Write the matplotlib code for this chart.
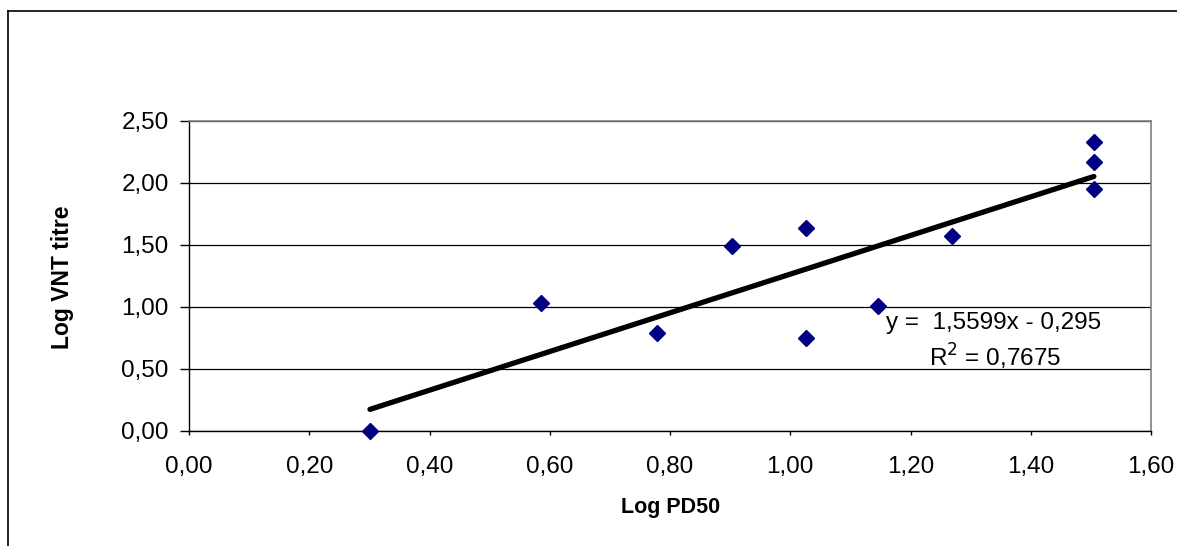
import matplotlib
matplotlib.use("Agg")
import matplotlib.pyplot as plt
from matplotlib.ticker import FuncFormatter, MultipleLocator
from matplotlib.lines import Line2D

plt.rcParams['font.family'] = ['Liberation Sans', 'DejaVu Sans']

# donnees
log_pd50 = [0.301, 0.585, 0.778, 0.903, 1.027, 1.027, 1.146, 1.269, 1.505, 1.505, 1.505]
log_vnt = [0.00, 1.035, 0.79, 1.49, 1.64, 0.747, 1.008, 1.573, 2.33, 2.17, 1.95]

# droite de tendance (affichee par Excel)
pente = 1.5599
ordonnee = -0.295
r2 = 0.7675

fig = plt.figure(figsize=(11.77, 5.46), dpi=100)
ax = fig.add_axes([189/1177, 1-431/546, (1151-189)/1177, (431-121)/546])

virg = FuncFormatter(lambda v, p: f"{v:.2f}".replace('.', ','))

x_tend = [min(log_pd50), max(log_pd50)]
y_tend = [pente*x + ordonnee for x in x_tend]
ax.plot(x_tend, y_tend, color="black", lw=3.8, solid_capstyle="round", zorder=3)
ax.plot(log_pd50, log_vnt, "D", color="#000080", ms=7.8, mec="#000080", clip_on=False, zorder=4)

ax.set_xlim(0, 1.6)
ax.set_ylim(0, 2.5)
ax.xaxis.set_major_locator(MultipleLocator(0.2))
ax.yaxis.set_major_locator(MultipleLocator(0.5))
ax.xaxis.set_major_formatter(virg)
ax.yaxis.set_major_formatter(virg)
ax.yaxis.grid(True, color="black", lw=0.9)
ax.set_axisbelow(True)

for s in ["top", "right"]:
    ax.spines[s].set_color("#808080")
    ax.spines[s].set_linewidth(1.2)
for s in ["left", "bottom"]:
    ax.spines[s].set_color("black")
    ax.spines[s].set_linewidth(1.0)

ax.tick_params(axis="y", direction="out", length=6.5, width=1, labelsize=17.5, pad=8)
ax.tick_params(axis="x", direction="out", length=3, width=1, labelsize=17.5, pad=15)

fig.text(63/1177, 1-277/546, "Log VNT titre", rotation=90, fontsize=16.5, fontweight="bold",
         ha="center", va="center")
fig.text(671/1177, 1-507/546, "Log PD50", fontsize=15.5, fontweight="bold", ha="center", va="center")

eq = f"y =  {pente:.4f}x - {abs(ordonnee):.3f}".replace('.', ',')
fig.text(994/1177, 1-323/546, eq, fontsize=17.5, ha="center", va="center")
fig.text(995/1177, 1-357/546, f"R$^2$ = {r2:.4f}".replace('.', ','), fontsize=17.5, ha="center", va="center")

# cadre exterieur
fig.add_artist(Line2D([8/1177, 1], [1-10.5/546, 1-10.5/546], transform=fig.transFigure, color="black", lw=1.2))
fig.add_artist(Line2D([8/1177, 8/1177], [0, 1-10.5/546], transform=fig.transFigure, color="black", lw=1.2))

fig.savefig("out.png", dpi=100)
